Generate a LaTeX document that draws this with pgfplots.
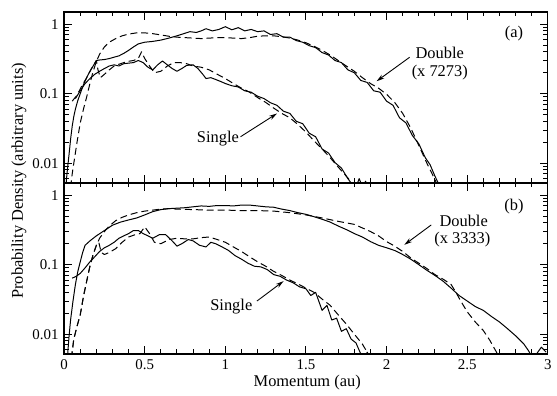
\documentclass[border=0pt]{standalone}
\usepackage{fontspec}
\setmainfont{Liberation Serif}
\usepackage{pgfplots}
\pgfplotsset{compat=1.18}
\usetikzlibrary{arrows.meta}
\tikzset{
 sl/.style={black, line width=1pt, line join=round},
 dl/.style={black, line width=1pt, line join=round, dash pattern=on 7pt off 4pt},
 arr/.style={-{Stealth[length=8pt,width=4.5pt]}, line width=0.9pt},
 tk/.style={black, line width=1pt},
}
\pgfplotsset{every axis/.append style={
   ymode=log, scale only axis, width=486.5pt, height=172pt,
   xmin=0, xmax=3, ymin=0.0052, ymax=1.5,
   xtick={0,0.5,1,1.5,2,2.5,3}, minor x tick num=4,
   ytick={0.01,0.1,1}, yticklabels={0.01,0.1,1},
   minor ytick={0.006,0.007,0.008,0.009,0.02,0.03,0.04,0.05,0.06,0.07,0.08,0.09,0.2,0.3,0.4,0.5,0.6,0.7,0.8,0.9},
   tickwidth=8pt, subtickwidth=4.5pt,
   tick align=inside, tick pos=both,
   every tick/.append style={draw=black, line width=1pt},
   axis line style={line width=1.3pt},
   tick label style={font=\fontsize{15}{18}\selectfont},
}}
\newcommand\myticks{%
 \pgfplotsinvokeforeach{0.1,0.2,0.3,0.4,0.6,0.7,0.8,0.9,1.1,1.2,1.3,1.4,1.6,1.7,1.8,1.9,2.1,2.2,2.3,2.4,2.6,2.7,2.8,2.9}{%
   \draw[tk] (axis cs:##1,0.0052) -- ++(0pt,4.5pt);
   \draw[tk] (axis cs:##1,1.5) -- ++(0pt,-4.5pt);}%
 \pgfplotsinvokeforeach{0.5,1,1.5,2,2.5}{%
   \draw[tk] (axis cs:##1,0.0052) -- ++(0pt,8pt);
   \draw[tk] (axis cs:##1,1.5) -- ++(0pt,-8pt);}%
 \pgfplotsinvokeforeach{0.006,0.007,0.008,0.009,0.02,0.03,0.04,0.05,0.06,0.07,0.08,0.09,0.2,0.3,0.4,0.5,0.6,0.7,0.8,0.9}{%
   \draw[tk] (axis cs:0,##1) -- ++(4.5pt,0pt);
   \draw[tk] (axis cs:3,##1) -- ++(-4.5pt,0pt);}%
 \pgfplotsinvokeforeach{0.01,0.1,1}{%
   \draw[tk] (axis cs:0,##1) -- ++(8pt,0pt);
   \draw[tk] (axis cs:3,##1) -- ++(-8pt,0pt);}%
}
\begin{document}
\fontsize{16.5}{19}\selectfont
\begin{tikzpicture}
% ---------------- top panel (a)
\begin{axis}[at={(64.5pt,209pt)}, anchor=south west, xticklabels={},
   /pgf/number format/assume math mode=true]
\addplot[sl, no marks] table {
0.010 0.0045
0.020 0.008
0.030 0.013
0.040 0.022
0.050 0.034
0.060 0.047
0.070 0.060
0.085 0.080
0.100 0.100
0.120 0.135
0.140 0.17
0.160 0.21
0.180 0.25
0.200 0.30
0.220 0.305
0.250 0.31
0.280 0.32
0.310 0.335
0.340 0.35
0.370 0.38
0.400 0.42
0.430 0.47
0.460 0.52
0.500 0.55
0.550 0.565
0.600 0.59
0.650 0.63
0.700 0.68
0.750 0.74
0.780 0.78
0.820 0.76
0.850 0.80
0.880 0.86
0.920 0.80
0.960 0.84
1.000 0.92
1.040 0.83
1.080 0.89
1.120 0.80
1.160 0.84
1.200 0.78
1.240 0.80
1.280 0.71
1.320 0.73
1.360 0.65
1.400 0.65
1.440 0.58
1.480 0.55
1.520 0.49
1.560 0.46
1.600 0.39
1.640 0.36
1.680 0.30
1.720 0.28
1.760 0.22
1.800 0.20
1.840 0.155
1.880 0.145
1.920 0.11
1.960 0.105
2.000 0.078
2.040 0.068
2.080 0.045
2.120 0.038
2.160 0.025
2.200 0.019
2.240 0.012
2.270 0.0095
2.300 0.0065
2.320 0.0052
2.340 0.0045
};
\addplot[dl, no marks] table {
0.040 0.0045
0.050 0.007
0.060 0.010
0.080 0.020
0.100 0.038
0.120 0.06
0.140 0.09
0.160 0.14
0.180 0.21
0.200 0.29
0.220 0.37
0.250 0.47
0.280 0.55
0.320 0.62
0.360 0.68
0.400 0.72
0.450 0.75
0.500 0.75
0.550 0.73
0.600 0.70
0.650 0.67
0.700 0.65
0.750 0.64
0.800 0.63
0.850 0.62
0.900 0.63
0.950 0.64
1.000 0.64
1.050 0.63
1.100 0.62
1.150 0.64
1.200 0.67
1.250 0.68
1.300 0.68
1.350 0.66
1.400 0.63
1.450 0.59
1.500 0.54
1.550 0.48
1.600 0.42
1.650 0.36
1.700 0.30
1.750 0.25
1.800 0.21
1.850 0.17
1.900 0.14
1.950 0.12
2.000 0.098
2.050 0.075
2.100 0.052
2.150 0.032
2.200 0.018
2.250 0.010
2.300 0.0058
2.320 0.0045
};
\addplot[sl, no marks] table {
0.070 0.085
0.100 0.11
0.130 0.14
0.160 0.165
0.190 0.19
0.220 0.21
0.250 0.23
0.280 0.25
0.310 0.26
0.340 0.25
0.370 0.27
0.400 0.275
0.430 0.28
0.460 0.30
0.490 0.28
0.520 0.24
0.550 0.22
0.580 0.26
0.610 0.295
0.640 0.26
0.670 0.23
0.700 0.21
0.730 0.23
0.760 0.255
0.800 0.26
0.830 0.23
0.860 0.19
0.880 0.165
0.910 0.17
0.940 0.16
0.970 0.15
1.000 0.14
1.040 0.13
1.080 0.125
1.120 0.11
1.160 0.105
1.200 0.092
1.240 0.085
1.280 0.074
1.320 0.068
1.360 0.056
1.400 0.052
1.440 0.040
1.480 0.037
1.520 0.027
1.560 0.024
1.600 0.016
1.640 0.014
1.680 0.0102
1.720 0.0085
1.760 0.006
1.790 0.0048
1.810 0.0045
1.830 0.006
1.850 0.0046
1.870 0.0055
1.890 0.004
};
\addplot[dl, no marks] table {
0.050 0.078
0.080 0.095
0.110 0.13
0.140 0.17
0.170 0.23
0.200 0.30
0.210 0.22
0.225 0.17
0.250 0.19
0.280 0.22
0.310 0.25
0.350 0.27
0.390 0.29
0.430 0.30
0.460 0.32
0.480 0.40
0.500 0.32
0.530 0.25
0.560 0.20
0.600 0.21
0.640 0.25
0.680 0.28
0.720 0.28
0.760 0.27
0.800 0.25
0.850 0.24
0.900 0.22
0.950 0.19
1.000 0.165
1.050 0.14
1.100 0.12
1.150 0.105
1.200 0.088
1.250 0.075
1.300 0.062
1.350 0.052
1.400 0.045
1.450 0.036
1.500 0.028
1.550 0.021
1.600 0.016
1.650 0.012
1.700 0.0088
1.750 0.0065
1.800 0.0048
};
\myticks
\node at (axis cs:2.79,0.74) {(a)};
\node at (axis cs:2.33,0.385) {Double};
\node at (axis cs:2.33,0.203) {(x 7273)};
\draw[arr] (axis cs:2.143,0.334) -- (axis cs:1.938,0.151);
\node at (axis cs:0.954,0.0228) {Single};
\draw[arr] (axis cs:1.094,0.024) -- (axis cs:1.32,0.0518);
\end{axis}
% ---------------- bottom panel (b)
\begin{axis}[at={(64.5pt,37pt)}, anchor=south west,
   xticklabels={0,0.5,1,1.5,2,2.5,3},
   /pgf/number format/assume math mode=true]
\addplot[sl, no marks] table {
0.020 0.0045
0.030 0.009
0.040 0.016
0.055 0.030
0.070 0.052
0.085 0.080
0.100 0.11
0.115 0.15
0.130 0.19
0.160 0.22
0.200 0.26
0.250 0.31
0.300 0.37
0.350 0.41
0.400 0.44
0.450 0.47
0.500 0.52
0.550 0.58
0.600 0.62
0.650 0.64
0.700 0.65
0.750 0.66
0.800 0.68
0.850 0.70
0.900 0.69
0.950 0.71
1.000 0.71
1.050 0.70
1.100 0.72
1.150 0.72
1.200 0.70
1.250 0.68
1.300 0.67
1.350 0.63
1.400 0.60
1.450 0.56
1.500 0.53
1.550 0.49
1.600 0.45
1.650 0.41
1.700 0.36
1.750 0.32
1.800 0.28
1.850 0.25
1.900 0.215
1.950 0.19
2.000 0.175
2.050 0.16
2.100 0.14
2.150 0.12
2.200 0.10
2.250 0.083
2.300 0.070
2.350 0.058
2.400 0.046
2.450 0.036
2.500 0.030
2.550 0.025
2.600 0.022
2.650 0.018
2.700 0.015
2.750 0.012
2.800 0.0095
2.850 0.0073
2.880 0.0058
2.900 0.0048
2.930 0.0052
2.960 0.0065
2.990 0.0055
};
\addplot[dl, no marks] table {
0.045 0.0045
0.060 0.0085
0.080 0.013
0.100 0.019
0.120 0.035
0.140 0.058
0.160 0.095
0.180 0.14
0.200 0.19
0.220 0.24
0.250 0.30
0.280 0.36
0.320 0.43
0.360 0.48
0.400 0.52
0.450 0.56
0.500 0.59
0.550 0.61
0.600 0.63
0.650 0.64
0.700 0.63
0.800 0.62
0.900 0.61
1.000 0.61
1.100 0.60
1.200 0.60
1.300 0.59
1.400 0.56
1.500 0.52
1.600 0.47
1.700 0.42
1.800 0.38
1.900 0.30
1.950 0.26
2.000 0.215
2.050 0.185
2.100 0.155
2.150 0.125
2.200 0.105
2.250 0.088
2.300 0.072
2.350 0.062
2.400 0.052
2.430 0.040
2.460 0.030
2.500 0.021
2.550 0.015
2.600 0.0113
2.640 0.0082
2.680 0.0056
2.700 0.0045
};
\addplot[sl, no marks] table {
0.050 0.064
0.075 0.068
0.100 0.075
0.130 0.09
0.160 0.11
0.190 0.13
0.220 0.155
0.250 0.175
0.280 0.19
0.310 0.21
0.340 0.24
0.370 0.26
0.400 0.28
0.430 0.31
0.460 0.31
0.490 0.28
0.520 0.26
0.550 0.24
0.590 0.27
0.630 0.27
0.670 0.22
0.700 0.185
0.730 0.20
0.770 0.23
0.800 0.22
0.840 0.19
0.880 0.18
0.910 0.21
0.940 0.20
0.980 0.18
1.020 0.16
1.060 0.135
1.100 0.12
1.140 0.105
1.180 0.095
1.220 0.093
1.260 0.085
1.300 0.072
1.340 0.068
1.380 0.060
1.420 0.055
1.460 0.048
1.500 0.045
1.530 0.036
1.560 0.040
1.600 0.022
1.630 0.026
1.660 0.016
1.690 0.017
1.720 0.011
1.750 0.012
1.780 0.0085
1.810 0.0075
1.840 0.0052
1.860 0.0045
1.880 0.0055
1.900 0.0045
};
\addplot[dl, no marks] table {
0.045 0.0045
0.060 0.0085
0.080 0.013
0.100 0.019
0.120 0.035
0.140 0.058
0.160 0.095
0.180 0.14
0.200 0.19
0.215 0.21
0.230 0.15
0.250 0.14
0.280 0.15
0.320 0.17
0.360 0.21
0.400 0.25
0.440 0.27
0.470 0.28
0.500 0.35
0.530 0.28
0.560 0.21
0.600 0.20
0.650 0.23
0.700 0.24
0.750 0.235
0.800 0.235
0.850 0.245
0.900 0.25
0.950 0.23
1.000 0.21
1.050 0.18
1.100 0.155
1.150 0.13
1.200 0.11
1.250 0.095
1.300 0.080
1.350 0.070
1.400 0.060
1.450 0.053
1.500 0.046
1.550 0.040
1.600 0.032
1.650 0.026
1.700 0.019
1.750 0.014
1.800 0.010
1.850 0.0072
1.880 0.0055
1.900 0.0045
};
\myticks
\node at (axis cs:2.79,0.68) {(b)};
\node at (axis cs:2.478,0.428) {Double};
\node at (axis cs:2.47,0.233) {(x 3333)};
\draw[arr] (axis cs:2.277,0.373) -- (axis cs:2.11,0.193);
\node at (axis cs:1.037,0.0249) {Single};
\draw[arr] (axis cs:1.196,0.030) -- (axis cs:1.361,0.058);
\end{axis}
\node[rotate=90] at (19pt,211pt) {Probability Density (arbitrary units)};
\node at (309pt,8.5pt) {Momentum (au)};
\path (0pt,0pt) (557pt,393pt);
\end{tikzpicture}
\end{document}
